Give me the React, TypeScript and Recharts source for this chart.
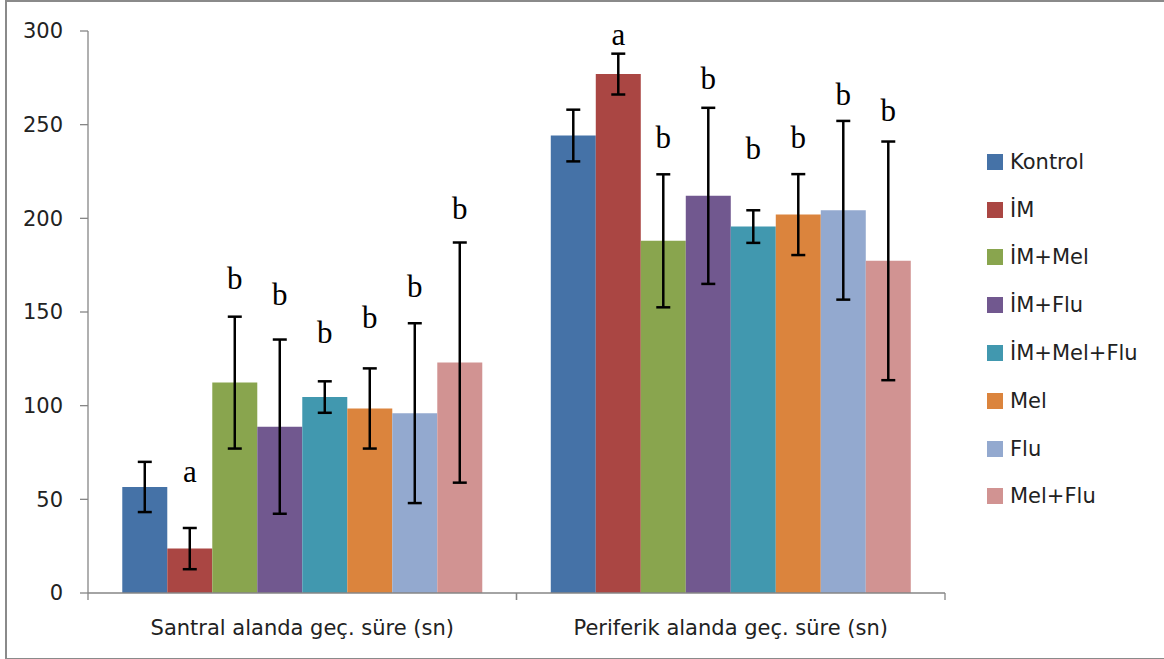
import React from "react";
import { BarChart, Bar, XAxis, YAxis, ErrorBar, LabelList } from "recharts";

const categories = ["Santral alanda geç. süre (sn)", "Periferik alanda geç. süre (sn)"];
const seriesNames = ["Kontrol", "İM", "İM+Mel", "İM+Flu", "İM+Mel+Flu", "Mel", "Flu", "Mel+Flu"];
const seriesColors = ["#4572A7", "#AA4643", "#89A54E", "#71588F", "#4198AF", "#DB843D", "#93A9CF", "#D19392"];

const kontrol = [56.6, 244.2];
const im = [23.7, 277];
const imMel = [112.3, 188];
const imFlu = [88.8, 212];
const imMelFlu = [104.6, 195.6];
const mel = [98.5, 202];
const flu = [96, 204.3];
const melFlu = [123, 177.3];

const kontrolErr = [13.4, 13.8];
const imErr = [11, 10.9];
const imMelErr = [35.2, 35.5];
const imFluErr = [46.5, 47];
const imMelFluErr = [8.4, 8.7];
const melErr = [21.4, 21.6];
const fluErr = [48, 47.7];
const melFluErr = [64.1, 63.7];

const letters = [
  ["", ""],
  ["a", "a"],
  ["b", "b"],
  ["b", "b"],
  ["b", "b"],
  ["b", "b"],
  ["b", "b"],
  ["b", "b"],
];
// annotation levels (in axis units) where the letters sit
const letterLevels = [
  [0, 0],
  [59.3, 292.6],
  [162.1, 237.4],
  [153.7, 268.9],
  [133.2, 231.5],
  [141.2, 237.4],
  [158.1, 260.5],
  [199.5, 252.0],
];

const yTicks = [0, 50, 100, 150, 200, 250, 300];

const seriesValues = [kontrol, im, imMel, imFlu, imMelFlu, mel, flu, melFlu];
const seriesErrors = [kontrolErr, imErr, imMelErr, imFluErr, imMelFluErr, melErr, fluErr, melFluErr];

const data = categories.map((cat, ci) => {
  const row: any = { cat };
  seriesValues.forEach((vals, si) => {
    row[`s${si}`] = vals[ci];
    row[`e${si}`] = seriesErrors[si][ci];
    row[`l${si}`] = letters[si][ci];
  });
  return row;
});

const FONT = "'DejaVu Sans', sans-serif";
const AXIS_GRAY = "#868686";
const TEXT = "#222";

const makeLetter = (si: number) => (props: any) => {
  const vb = props.viewBox && props.viewBox.width !== undefined ? props.viewBox : props;
  const { x, y, width, height } = vb;
  const idx = props.index;
  const letter = letters[si][idx];
  if (!letter) return null;
  const val = seriesValues[si][idx];
  const level = letterLevels[si][idx];
  const base = y + height;
  const py = base - (height * level) / val;
  return (
    <text
      x={x + width / 2}
      y={py}
      textAnchor="middle"
      fontFamily="'Liberation Serif', 'Times New Roman', serif"
      fontSize={31}
      fill="#000"
    >
      {letter}
    </text>
  );
};

const CatTick = (props: any) => {
  const { x, y, payload } = props;
  const off = payload && payload.offset ? payload.offset : 0;
  const axisY = y - 27;
  return (
    <g>
      <line x1={x - off} y1={axisY} x2={x - off} y2={axisY + 7} stroke={AXIS_GRAY} strokeWidth={1.3} />
      <line x1={x + off} y1={axisY} x2={x + off} y2={axisY + 7} stroke={AXIS_GRAY} strokeWidth={1.3} />
      <text x={x} y={y} dy="0.71em" textAnchor="middle" fontFamily={FONT} fontSize={21} fill={TEXT}>
        {payload.value}
      </text>
    </g>
  );
};

export default function App() {
  return (
    <div style={{ position: "absolute", left: 0, top: 0, width: 1164, height: 659, background: "#fff" }}>
      <div
        style={{
          position: "absolute",
          left: 5,
          top: 0,
          width: 1164 - 5,
          height: 656,
          borderLeft: "2px solid #8a8a8a",
          borderTop: "2px solid #8a8a8a",
          borderBottom: "2px solid #8a8a8a",
          boxSizing: "content-box",
        }}
      />
      <div style={{ position: "absolute", left: 0, top: 0 }}>
        <BarChart
          width={1164}
          height={659}
          data={data}
          margin={{ top: 31, right: 219, bottom: 26, left: 0 }}
          barGap={0}
          barCategoryGap="8%"
        >
          <XAxis
            dataKey="cat"
            tickLine={false}
            axisLine={{ stroke: AXIS_GRAY, strokeWidth: 1.3 }}
            tick={<CatTick />}
            tickSize={0}
            tickMargin={27}
            height={40}
            interval={0}
          />
          <YAxis
            domain={[0, 300]}
            ticks={yTicks}
            width={88}
            tickSize={8}
            tickMargin={17}
            axisLine={{ stroke: AXIS_GRAY, strokeWidth: 1.3 }}
            tickLine={{ stroke: AXIS_GRAY, strokeWidth: 1.3 }}
            tick={{ fontFamily: FONT, fontSize: 21, fill: TEXT }}
          />
          {seriesNames.map((name, si) => (
            <Bar key={name} dataKey={`s${si}`} name={name} fill={seriesColors[si]} isAnimationActive={false}>
              <ErrorBar dataKey={`e${si}`} width={7} strokeWidth={2.5} stroke="#000" direction="y" />
              <LabelList dataKey={`l${si}`} content={makeLetter(si)} />
            </Bar>
          ))}
        </BarChart>
      </div>
      <div style={{ position: "absolute", left: 987, top: 138, fontFamily: FONT, fontSize: 21, color: TEXT }}>
        {seriesNames.map((name, si) => (
          <div key={name} style={{ height: 47.8, display: "flex", alignItems: "center", whiteSpace: "nowrap" }}>
            <span
              style={{ display: "inline-block", width: 16, height: 16, background: seriesColors[si], marginRight: 7 }}
            />
            <span>{name}</span>
          </div>
        ))}
      </div>
    </div>
  );
}
